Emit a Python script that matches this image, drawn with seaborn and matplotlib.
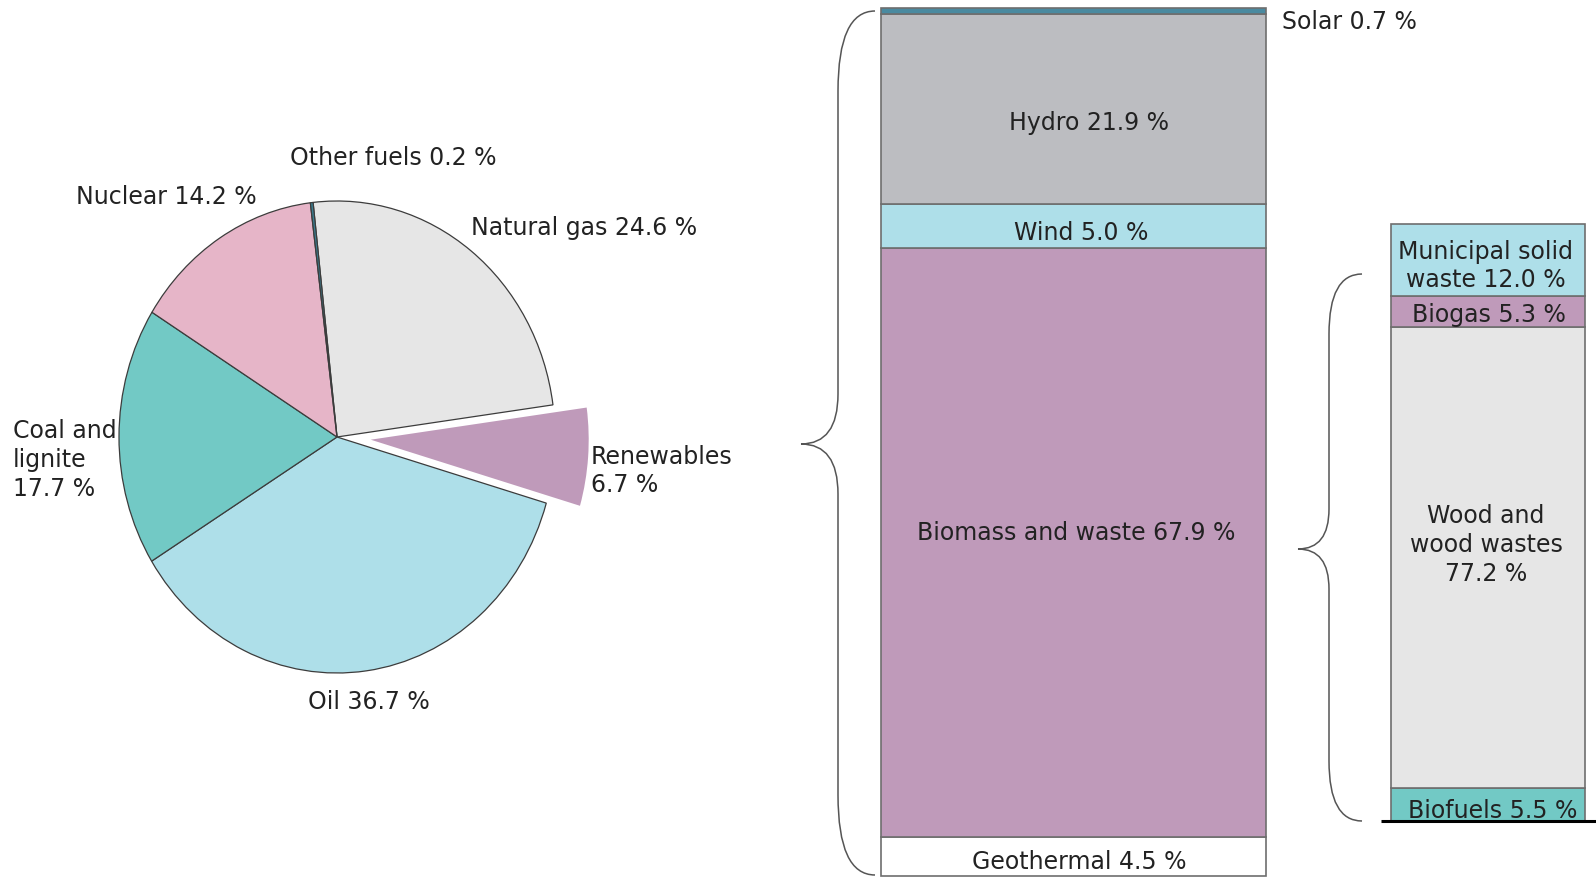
import numpy as np
import matplotlib
matplotlib.use("Agg")
import matplotlib.pyplot as plt
from matplotlib.path import Path
from matplotlib.patches import PathPatch
import seaborn as sns

sns.set_theme(style="white")
plt.rcParams['font.family'] = ['DejaVu Sans']

# ---------------- data ----------------
pie_labels = ["Natural gas", "Renewables", "Oil", "Coal and\nlignite", "Nuclear", "Other fuels"]
pie_values = [24.6, 6.7, 36.7, 17.7, 14.2, 0.2]
pie_colors = ["#e6e6e6", "#bf9aba", "#aedfe9", "#72c9c5", "#e6b5c8", "#3a7f93"]

ren_labels = ["Solar", "Hydro", "Wind", "Biomass and waste", "Geothermal"]
ren_values = [0.7, 21.9, 5.0, 67.9, 4.5]
ren_colors = ["#4a8aa0", "#bcbdc1", "#aedfe9", "#bf9aba", "#ffffff"]

bio_labels = ["Municipal solid\nwaste", "Biogas", "Wood and\nwood wastes", "Biofuels"]
bio_values = [12.0, 5.3, 77.2, 5.5]
bio_colors = ["#aedfe9", "#bf9aba", "#e6e6e6", "#72c9c5"]

W, H = 1596, 878
fig = plt.figure(figsize=(W / 100, H / 100), dpi=100)
FS = 17
TXT = "#222222"


def fig_rect(x0, y0, x1, y1):
    """pixel box (y down) -> figure fraction rect"""
    return [x0 / W, 1 - y1 / H, (x1 - x0) / W, (y1 - y0) / H]


# ---------------- pie ----------------
cx, cy, rx, ry = 337, 438, 218, 236
ax_pie = fig.add_axes(fig_rect(cx - rx, cy - ry, cx + rx, cy + ry))
explode = [0, 0.155, 0, 0, 0, 0]
wedges, _ = ax_pie.pie(pie_values, colors=pie_colors, startangle=96.3,
                       counterclock=False, explode=explode,
                       wedgeprops=dict(edgecolor="#3c3c3c", linewidth=0.9))
wedges[1].set_edgecolor("none")
ax_pie.set_aspect("auto")
ax_pie.set_xlim(-1, 1)
ax_pie.set_ylim(-1, 1)
ax_pie.axis("off")
for w in wedges:
    w.set_clip_on(False)


# ---------------- stacked bars ----------------
def stacked(rect, values, colors):
    ax = fig.add_axes(rect)
    vals = list(values)[::-1]
    cols = list(colors)[::-1]
    bottoms = np.concatenate([[0], np.cumsum(vals)[:-1]])
    for v, b, c in zip(vals, bottoms, cols):
        ax.bar(0, v, bottom=b, width=1.0, color=c, edgecolor="#6e6e6e",
               linewidth=1.2)
    ax.set_xlim(-0.5, 0.5)
    ax.set_ylim(0, sum(vals))
    ax.axis("off")
    for p in ax.patches:
        p.set_clip_on(False)
    return ax


ax_mid = stacked(fig_rect(881, 9, 1266, 877), ren_values, ren_colors)
ax_bio = stacked(fig_rect(1391, 225, 1585, 822), bio_values, bio_colors)

# ---------------- overlay (braces, text) ----------------
ov = fig.add_axes([0, 0, 1, 1], zorder=10)
ov.set_xlim(0, W)
ov.set_ylim(H, 0)
ov.axis("off")
ov.patch.set_alpha(0)


def brace(x_end, x_mid, x_tip, y_top, y_tip, y_bot, r, r2):
    verts = [(x_end, y_top), (x_mid, y_top), (x_mid, y_top + r),
             (x_mid, y_tip - r2),
             (x_mid, y_tip), (x_tip, y_tip),
             (x_mid, y_tip), (x_mid, y_tip + r2),
             (x_mid, y_bot - r),
             (x_mid, y_bot), (x_end, y_bot)]
    codes = [Path.MOVETO, Path.CURVE3, Path.CURVE3, Path.LINETO,
             Path.CURVE3, Path.CURVE3, Path.CURVE3, Path.CURVE3,
             Path.LINETO, Path.CURVE3, Path.CURVE3]
    ov.add_patch(PathPatch(Path(verts, codes), facecolor="none",
                           edgecolor="#555555", linewidth=1.1))


brace(875, 838, 801, 12, 445, 876, 80, 50)
brace(1362, 1329, 1298, 275, 550, 822, 60, 40)

ov.plot([1381, W], [822, 822], color="black", linewidth=2.2,
        solid_capstyle="butt")

kw = dict(fontsize=FS, color=TXT, linespacing=1.25)

# pie labels
pct = [f"{v:.1f} %" for v in pie_values]
ov.text(290, 158, f"{pie_labels[5]} {pct[5]}", ha="left", va="center", **kw)
ov.text(76, 197, f"{pie_labels[4]} {pct[4]}", ha="left", va="center", **kw)
ov.text(471, 228, f"{pie_labels[0]} {pct[0]}", ha="left", va="center", **kw)
ov.text(13, 460, f"{pie_labels[3]}\n{pct[3]}", ha="left", va="center", **kw)
ov.text(591, 471, f"{pie_labels[1]}\n{pct[1]}", ha="left", va="center", **kw)
ov.text(308, 702, f"{pie_labels[2]} {pct[2]}", ha="left", va="center", **kw)

# renewables bar labels
ov.text(1282, 22, f"{ren_labels[0]} {ren_values[0]:.1f} %", ha="left", va="center", **kw)
ov.text(1089, 123, f"{ren_labels[1]} {ren_values[1]:.1f} %", ha="center", va="center", **kw)
ov.text(1081, 233, f"{ren_labels[2]} {ren_values[2]:.1f} %", ha="center", va="center", **kw)
ov.text(1076, 533, f"{ren_labels[3]} {ren_values[3]:.1f} %", ha="center", va="center", **kw)
ov.text(1079, 862, f"{ren_labels[4]} {ren_values[4]:.1f} %", ha="center", va="center", **kw)

# biomass bar labels
ov.text(1486, 266, f"{bio_labels[0]} {bio_values[0]:.1f} %", ha="center", va="center", **kw)
ov.text(1489, 315, f"{bio_labels[1]} {bio_values[1]:.1f} %", ha="center", va="center", **kw)
ov.text(1486, 545, f"{bio_labels[2]}\n{bio_values[2]:.1f} %", ha="center", va="center", **kw)
ov.text(1493, 811, f"{bio_labels[3]} {bio_values[3]:.1f} %", ha="center", va="center", **kw)

fig.savefig("out.png", dpi=100, facecolor="white")
